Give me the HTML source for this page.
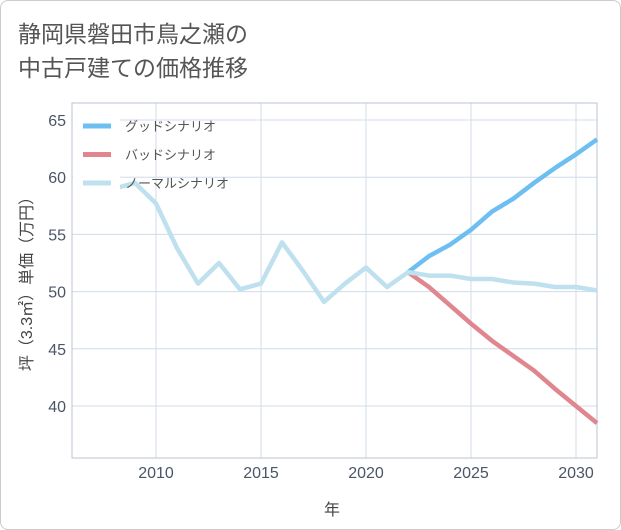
<!DOCTYPE html>
<html><head><meta charset="utf-8"><style>
body{margin:0;background:#fff;}
.card{position:absolute;left:0;top:0;width:619px;height:528px;border:1px solid #ccc;border-radius:8px;background:#fff;}
</style></head><body>
<div class="card"></div>
<svg width="621" height="530" style="position:absolute;left:0;top:0" font-family="'Liberation Sans','Noto Sans CJK JP',sans-serif">
<text x="18" y="42" font-size="23" fill="#555">静岡県磐田市鳥之瀬の</text>
<text x="18" y="76" font-size="23" fill="#555">中古戸建ての価格推移</text>
<g id="grid"></g><g id="legendbg"></g><g id="lines"></g><g id="axes"></g>
<text x="332" y="515" font-size="16" fill="#444" text-anchor="middle">年</text>
<text transform="translate(32,280) rotate(-90)" font-size="16" fill="#444" text-anchor="middle">坪（3.3㎡）単価（万円）</text>
<g id="legend"></g>
</svg>
<script>
const years=[2008,2009,2010,2011,2012,2013,2014,2015,2016,2017,2018,2019,2020,2021,2022,2023,2024,2025,2026,2027,2028,2029,2030,2031];
const normal=[59.0,59.5,57.7,53.8,50.7,52.5,50.2,50.7,54.3,51.8,49.1,50.7,52.1,50.4,51.7,51.4,51.4,51.1,51.1,50.8,50.7,50.4,50.4,50.1];
const futureYears=[2022,2023,2024,2025,2026,2027,2028,2029,2030,2031];
const good=[51.7,53.1,54.1,55.4,57.0,58.1,59.5,60.8,62.0,63.3];
const bad=[51.7,50.4,48.8,47.2,45.7,44.4,43.1,41.5,40.0,38.5];
const xTicks=[2010,2015,2020,2025,2030];
const yTicks=[40,45,50,55,60,65];
const L=72,R=597,T=103,B=458;
const x=v=>L+(v-2006)*(R-L)/25;
const y=v=>120+(65-v)*11.44;
const NS='http://www.w3.org/2000/svg';
function mk(tag,attrs,parent){const e=document.createElementNS(NS,tag);for(const k in attrs)e.setAttribute(k,attrs[k]);parent.appendChild(e);return e;}
const grid=document.getElementById('grid'),axes=document.getElementById('axes'),lines=document.getElementById('lines'),leg=document.getElementById('legend'),legbg=document.getElementById('legendbg');
xTicks.forEach(t=>{const l=mk('line',{x1:x(t),x2:x(t),y1:T,y2:B,stroke:'#d0dce8','stroke-width':1},grid);

const tx=mk('text',{x:x(t),y:B+20,'font-size':16,fill:'#4a5568','text-anchor':'middle'},axes);tx.textContent=t;
});
yTicks.forEach(t=>{const l=mk('line',{x1:L,x2:R,y1:y(t),y2:y(t),stroke:'#d0dce8','stroke-width':1},grid);

const tx=mk('text',{x:L-6,y:y(t)+6,'font-size':16,fill:'#4a5568','text-anchor':'end'},axes);tx.textContent=t;
});
const frame=mk('rect',{x:L,y:T,width:R-L,height:B-T,fill:'none',stroke:'#b8c4d0'},grid);

function line(xs,vs,color,name){const p=mk('polyline',{points:xs.map((v,i)=>x(v)+','+y(vs[i])).join(' '),fill:'none',stroke:color,'stroke-width':4.5,'stroke-linejoin':'round'},lines);
}
line(futureYears,bad,'#e0868e','bad-scenario-line');
line(futureYears,good,'#6dbff2','good-scenario-line');
line(years,normal,'#bfe0ee','normal-scenario-line');
const bg=mk('rect',{x:L+1,y:T+5,width:47,height:95,fill:'#fff'},lines);

[['グッドシナリオ','#6dbff2'],['バッドシナリオ','#e0868e'],['ノーマルシナリオ','#bfe0ee']].forEach((d,i)=>{
const yy=126+i*28.5;
const g=mk('g',{},leg);
mk('line',{x1:83,x2:111,y1:yy,y2:yy,stroke:d[1],'stroke-width':5},g);
const t=mk('text',{x:125,y:yy+5,'font-size':13,fill:'#555'},g);t.textContent=d[0];});
</script>
</body></html>
